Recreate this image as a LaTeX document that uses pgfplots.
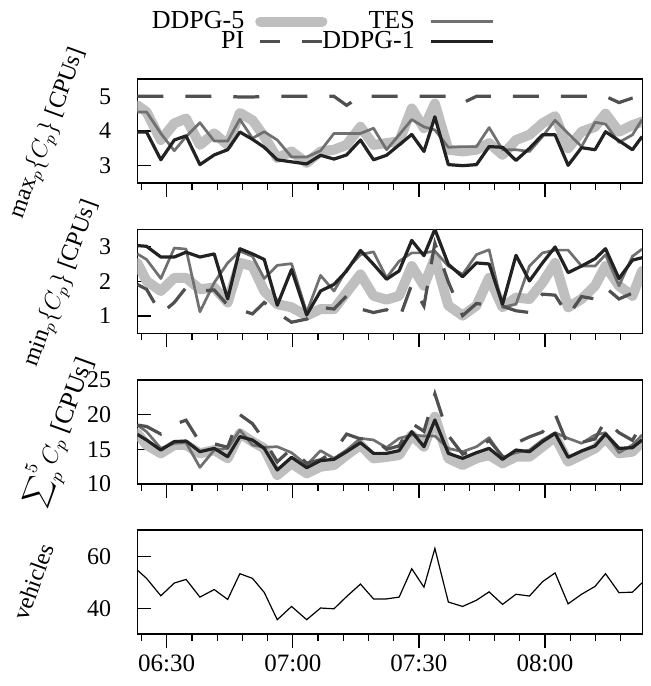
\documentclass[border=0pt]{standalone}
\usepackage{fontspec}
\setmainfont{Liberation Serif}
\usepackage{pgfplots}
\usepackage{pgfplotstable}
\pgfplotsset{compat=1.18}

\definecolor{cddpgfive}{HTML}{BFBFBF}
\definecolor{ctes}{HTML}{707070}
\definecolor{cpi}{HTML}{505050}
\definecolor{cddpgone}{HTML}{222222}

% t = minutes after midnight
\pgfplotstableread{
t     d5    tes   pi    d1
383.0 4.74  4.55  5.00  3.97
385.2 4.55  4.55  5.00  3.97
388.6 3.74  3.93  5.00  3.17
391.8 4.22  3.43  5.00  3.74
394.6 4.36  3.84  5.00  3.86
397.9 3.60  4.24  5.00  3.03
401.3 3.93  3.71  5.00  3.31
404.5 3.60  3.71  5.00  3.46
407.4 4.52  4.34  4.98  3.97
410.4 4.31  3.79  4.98  3.76
413.2 3.84  3.98  5.00  3.53
416.3 3.22  3.74  5.00  3.17
419.7 3.41  3.25  5.00  3.11
423.3 3.08  3.25  5.00  3.05
426.6 3.41  3.43  5.00  3.30
429.8 3.46  3.93  5.00  3.19
432.8 3.60  3.93  4.74  3.31
436.1 4.12  3.93  5.00  3.74
439.2 3.60  4.08  5.00  3.17
442.3 3.65  3.46  5.00  3.30
445.3 3.70  3.89  5.00  3.60
448.3 4.65  4.33  5.00  3.90
451.2 4.08  4.12  5.00  3.41
453.8 4.79  4.03  5.00  4.41
457.0 3.46  3.53  5.00  3.03
460.4 3.41  3.55  4.81  3.00
463.7 3.46  3.55  5.00  3.03
466.7 3.65  4.10  5.00  3.55
469.9 3.31  3.46  5.00  3.53
473.1 3.74  3.46  5.00  3.15
476.3 3.89  3.41  5.00  3.50
479.4 4.22  3.84  5.00  3.89
482.4 4.43  4.31  5.00  3.89
485.5 3.50  3.93  5.00  3.01
488.7 3.98  3.55  5.00  3.52
491.9 4.12  4.25  5.00  3.46
494.4 4.50  4.20  5.00  3.98
497.6 3.98  3.67  4.82  3.72
500.8 4.17  3.89  4.95  3.46
503.1 4.27  4.33  5.00  3.84
}\maxdata

\pgfplotstableread{
t     d5    tes   pi    d1
383.0 2.53  2.79  1.91  3.03
385.2 2.01  2.63  1.77  3.01
388.6 1.72  2.08  1.06  2.70
391.8 2.10  2.96  1.39  2.70
394.6 2.10  2.93  1.82  2.84
397.9 1.77  1.12  1.72  2.70
401.3 1.82  1.96  1.75  2.79
404.5 1.39  2.53  1.31  1.49
407.4 2.53  2.87  1.18  2.94
410.4 2.44  2.72  1.06  2.79
413.2 1.72  2.08  1.39  2.63
416.3 1.34  2.46  1.09  1.31
419.7 1.25  2.51  0.82  2.34
423.3 1.01  1.10  0.91  1.03
426.6 1.20  2.17  1.25  1.72
429.8 1.20  1.72  1.20  1.91
432.8 1.68  2.34  1.58  2.30
436.1 2.20  2.77  1.20  2.89
439.2 1.58  2.85  1.10  2.49
442.3 1.47  2.10  1.18  2.06
445.3 1.58  2.58  0.91  2.30
448.3 2.44  2.82  1.91  3.18
451.2 1.87  2.82  1.29  2.74
453.8 2.68  2.87  3.10  3.50
457.0 1.30  2.44  1.98  2.49
460.4 1.01  2.20  1.01  2.13
463.7 1.30  2.77  1.36  2.53
466.7 2.10  2.91  1.31  2.50
469.9 1.25  1.25  1.28  1.34
473.1 1.53  1.34  1.15  2.75
476.3 1.49  2.44  1.10  2.01
479.4 1.96  2.82  1.63  2.53
482.4 2.53  2.90  1.60  2.99
485.5 1.25  2.90  1.01  2.25
488.7 1.49  2.44  1.56  2.44
491.9 1.87  2.44  1.49  2.65
494.4 2.44  2.77  1.82  2.94
497.6 1.87  1.87  1.49  2.08
500.8 1.58  2.72  1.66  2.61
503.1 2.30  2.93  1.22  2.68
}\mindata

\pgfplotstableread{
t     d5     tes    pi     d1
383.0 17.31  18.51  18.50  17.16
385.2 15.63  17.55  18.30  16.35
388.6 14.42  15.14  17.20  14.90
391.8 15.63  15.87  18.60  16.11
394.6 15.63  15.96  19.20  16.20
397.9 14.42  12.40  16.00  14.66
401.3 14.90  14.90  15.80  15.14
404.5 13.70  15.14  15.30  13.94
407.4 17.31  17.79  20.00  16.83
410.4 16.11  15.63  18.70  16.35
413.2 15.14  15.29  16.30  15.14
416.3 11.30  15.38  13.20  12.02
419.7 12.98  14.52  15.10  13.85
423.3 11.54  12.74  13.00  12.36
426.6 12.50  14.81  13.50  13.37
429.8 12.74  13.70  14.70  13.56
432.8 14.18  14.90  17.20  14.66
436.1 15.63  16.59  16.50  15.96
439.2 13.70  16.35  16.60  14.42
442.3 13.90  15.25  15.00  14.42
445.3 14.18  16.59  15.50  14.81
448.3 17.07  17.07  18.75  17.55
451.2 15.38  16.92  17.60  15.38
453.8 19.71  16.92  23.00  19.23
457.0 13.70  15.14  17.00  14.42
460.4 12.74  14.66  14.30  13.70
463.7 13.70  15.38  15.00  14.52
466.7 14.18  16.68  16.30  15.14
469.9 12.98  13.85  14.00  13.56
473.1 13.94  14.52  15.90  14.90
476.3 13.94  14.90  16.80  14.66
479.4 15.38  16.35  17.50  16.11
482.4 16.83  17.40  20.10  17.31
485.5 13.22  16.59  15.50  13.85
488.7 14.18  15.87  16.00  14.76
491.9 15.14  17.07  16.50  15.48
494.4 16.59  17.40  19.20  17.21
497.6 14.42  14.52  17.40  15.14
500.8 14.66  15.63  16.30  15.24
503.1 16.11  17.07  18.70  16.35
}\sumdata

\pgfplotstableread{
t     veh
383.0 54.9
385.2 51.7
388.6 45.0
391.8 49.9
394.6 51.3
397.9 44.5
401.3 47.4
404.5 43.6
407.4 53.5
410.4 51.7
413.2 46.3
416.3 35.8
419.7 40.9
423.3 35.8
426.6 40.3
429.8 40.0
432.8 44.7
436.1 49.5
439.2 43.8
442.3 43.8
445.3 44.5
448.3 55.4
451.2 48.3
453.8 63.2
457.0 42.6
460.4 40.9
463.7 43.3
466.7 46.5
469.9 41.7
473.1 45.6
476.3 44.9
479.4 50.4
482.4 53.8
485.5 41.9
488.7 45.6
491.9 48.6
494.4 53.5
497.6 46.2
500.8 46.4
503.1 50.0
}\vehdata

\pgfplotsset{
  panel/.style={
    scale only axis,
    width=252.4pt, height=52pt,
    anchor=north west,
    xmin=383, xmax=503.1,
    xtick={390,420,450,480},
    minor xtick={384,396,402,408,414,426,432,438,444,456,462,468,474,486,492,498},
    xticklabels={},
    xtick pos=bottom, ytick pos=left,
    xtick align=outside, ytick align=inside,
    major tick length=7pt, minor tick length=3.3pt,
    axis line style={line width=0.6pt},
    every tick/.style={black, line width=0.6pt},
    tick label style={font=\fontsize{12}{14}\selectfont},
    yticklabel style={xshift=-9.5pt},
    /pgf/number format/assume math mode=true,
    ylabel style={rotate=-20, anchor=center, font=\fontsize{12}{14}\selectfont},
    % legend sample: 8pt gap, then a 31pt line; cell box ends with the line
    legend image code/.code={
      \draw[#1, dash phase=3pt] (8pt,0pt) -- (39pt,0pt);
      \pgfresetboundingbox
      \path[draw=none, fill=none] (0pt,0pt) -- (39pt,0pt);},
  },
  sd5/.style={color=cddpgfive, line width=5pt, line join=round, line cap=round},
  stes/.style={color=ctes, line width=1.35pt, line join=round},
  spi/.style={color=cpi, line width=1.6pt, dash pattern=on 13pt off 11pt},
  sd1/.style={color=cddpgone, line width=1.6pt, line join=round},
}

\begin{document}
\begin{tikzpicture}
  \path[use as bounding box] (0pt,0pt) rectangle (325.5pt,-343pt);

  % max
  \begin{axis}[
    panel,
    at={(68.65pt,-39.5pt)},
    ymin=2.5, ymax=5.5,
    ytick={3,4,5},
    ylabel={$\max_p\{C_p\}$ [CPUs]},
    ylabel style={at={(axis description cs:-0.177,0.48)}},
    legend columns=2,
    legend plot pos=right,
    legend cell align=right,
    legend style={draw=none, fill=none, inner sep=0pt,
      at={(0.705,1)}, anchor=north east, yshift=34.5pt,
      font=\fontsize{13}{15}\selectfont,
      nodes={inner ysep=0.5pt, inner xsep=0pt},
      column sep=0pt, row sep=-1pt},
  ]
    \addplot[sd5] table[x=t, y=d5] {\maxdata};
    \addlegendentry{DDPG-5}
    \addplot[stes] table[x=t, y=tes] {\maxdata};
    \addlegendentry{TES}
    \addplot[spi] table[x=t, y=pi] {\maxdata};
    \addlegendentry{PI}
    \addplot[sd1] table[x=t, y=d1] {\maxdata};
    \addlegendentry{DDPG-1}
  \end{axis}

  % min
  \begin{axis}[
    panel,
    at={(68.65pt,-114.65pt)},
    ymin=0.5, ymax=3.5,
    ytick={1,2,3},
    ylabel={$\min_p\{C_p\}$ [CPUs]},
    ylabel style={at={(axis description cs:-0.15,0.48)}},
  ]
    \addplot[sd5] table[x=t, y=d5] {\mindata};
    \addplot[stes] table[x=t, y=tes] {\mindata};
    \addplot[spi] table[x=t, y=pi] {\mindata};
    \addplot[sd1] table[x=t, y=d1] {\mindata};
  \end{axis}

  % sum
  \begin{axis}[
    panel,
    at={(68.65pt,-190pt)},
    ymin=10, ymax=25,
    ytick={10,15,20,25},
    ylabel={$\displaystyle\sum\nolimits_p^5 C_p$ [CPUs]},
    ylabel style={at={(axis description cs:-0.152,0.5)},
      font=\fontsize{13}{15}\selectfont},
  ]
    \addplot[sd5] table[x=t, y=d5] {\sumdata};
    \addplot[stes] table[x=t, y=tes] {\sumdata};
    \addplot[spi] table[x=t, y=pi] {\sumdata};
    \addplot[sd1] table[x=t, y=d1] {\sumdata};
  \end{axis}

  % vehicles
  \begin{axis}[
    panel,
    at={(68.65pt,-265pt)},
    ymin=30.3, ymax=70.3,
    ytick={40,60},
    xticklabels={06:30,07:00,07:30,08:00},
    xticklabel style={font=\fontsize{12.5}{14}\selectfont},
    ylabel={vehicles},
    ylabel style={at={(axis description cs:-0.206,0.5)}},
  ]
    \addplot[black, line width=0.6pt] table[x=t, y=veh] {\vehdata};
  \end{axis}
\end{tikzpicture}
\end{document}
